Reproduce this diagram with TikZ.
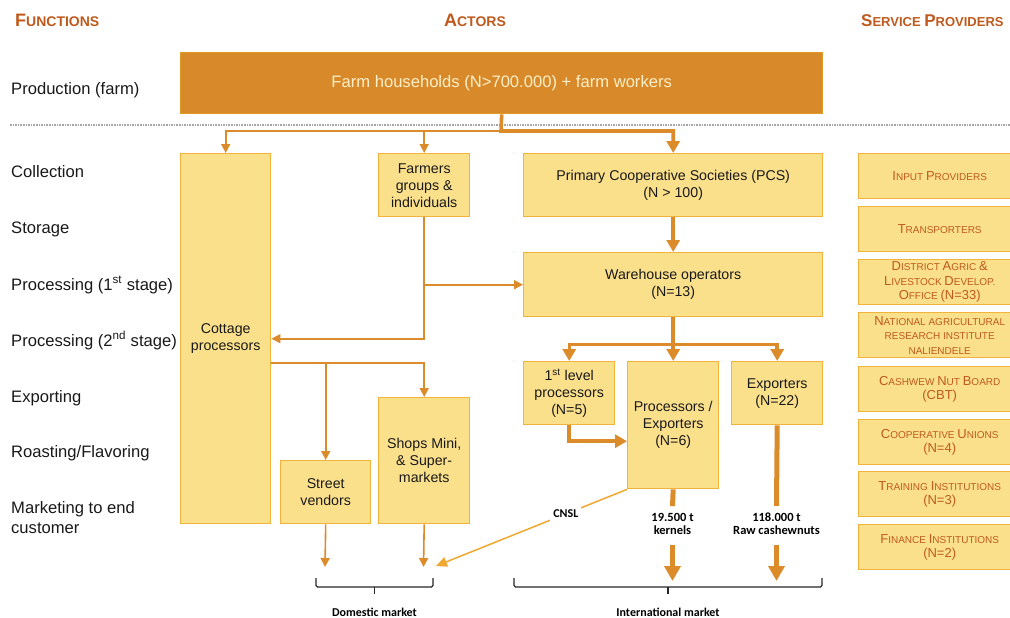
\documentclass[tikz,border=0pt]{standalone}
\usepackage{fontspec}
\setmainfont{Liberation Sans}
\newfontfamily\calibfont{Carlito}
\usetikzlibrary{arrows.meta}
\definecolor{boxc}{HTML}{FBE08C}
\definecolor{bordc}{HTML}{F0B43C}
\definecolor{farmc}{HTML}{D8892A}
\definecolor{arrc}{HTML}{DB8B2A}
\definecolor{cnslc}{HTML}{F0A830}
\definecolor{hdrc}{HTML}{BF5A1E}
\definecolor{cream}{HTML}{FDF0C8}
\newcommand\capw[2]{{\fontsize{13}{14.5}\selectfont #1}#2}
\newcommand\hdw[2]{{\fontsize{18}{20}\selectfont #1}#2}
\newcommand\hdws[2]{{\fontsize{17}{20}\selectfont #1}#2}
\begin{document}
\begin{tikzpicture}[x=1pt,y=-1pt,
  box/.style={draw=bordc, fill=boxc, line width=1.4pt, align=center, inner sep=0pt,
    anchor=north west, font=\fontsize{14.2}{17}\selectfont, text=black!90},
  spbox/.style={box, minimum width=162pt, minimum height=45pt,
    font=\fontsize{10}{14.5}\selectfont, text=hdrc},
  flab/.style={anchor=base west, inner sep=0pt, font=\fontsize{16.6}{20}\selectfont, align=left, text=black!90},
  hdr/.style={inner sep=0pt, font=\bfseries\fontsize{14}{16}\selectfont, text=hdrc},
  thk/.style={draw=arrc, line width=3.6pt, -{Triangle[length=12pt,width=13pt]}},
  thn/.style={draw=arrc, line width=1.6pt, -{Triangle[length=9pt,width=9pt]}},
  big/.style={draw=arrc, line width=5pt, -{Triangle[length=15pt,width=16pt]}},
  bigl/.style={draw=arrc, line width=5pt},
  cnsl/.style={draw=cnslc, line width=1.5pt, -{Triangle[length=11pt,width=10pt]}},
  qlab/.style={inner sep=0pt, align=center, font=\calibfont\bfseries\fontsize{12.5}{13}\selectfont},
  brc/.style={draw=black!85, line width=1.3pt, rounded corners=1.5pt}
]
\useasboundingbox (0,0) rectangle (1010,618);

% headers
\node[hdr, anchor=base west] (hf) at (15,27) {\hdw{F}{UNCTIONS}};
\node[hdr, anchor=base] (ha) at (475,27) {\hdw{A}{CTORS}};
\node[hdr, anchor=base west, font=\bfseries\fontsize{13}{16}\selectfont] (hs) at (861,27) {\hdws{S}{ERVICE} \hdws{P}{ROVIDERS}};

% function labels
\node[flab] (lprod) at (11,95) {Production (farm)};
\node[flab] (lcol) at (11,177) {Collection};
\node[flab] (lsto) at (11,233) {Storage};
\node[flab] (lp1) at (11,290) {Processing (1\textsuperscript{st} stage)};
\node[flab] (lp2) at (11,346) {Processing (2\textsuperscript{nd} stage)};
\node[flab] (lexp) at (11,402) {Exporting};
\node[flab] (lroa) at (11,457) {Roasting/Flavoring};
\node[flab] (lmkt) at (11,533) {Marketing to end\\customer};

% separator
\draw[gray!70, line width=1.6pt, densely dotted] (10,125) -- (1010,125);

% actor boxes
\node[box, fill=farmc, draw=farmc!85!yellow, minimum width=642pt, minimum height=61pt,
  text=cream, font=\fontsize{16.6}{19}\selectfont] (farm) at (180,52)
  {Farm households (N>700.000) + farm workers};
\node[box, minimum width=90pt, minimum height=370pt] (cot) at (180,153) {Cottage\\processors};
\node[box, minimum width=91pt, minimum height=63pt] (fg) at (378,153) {Farmers\\groups \&\\individuals};
\node[box, minimum width=299pt, minimum height=63pt] (pcs) at (523,153) {Primary Cooperative Societies (PCS)\\(N > 100)};
\node[box, minimum width=299pt, minimum height=64pt] (wh) at (523,252) {Warehouse operators\\(N=13)};
\node[box, minimum width=91pt, minimum height=63pt] (fl) at (523,361) {1\textsuperscript{st} level\\processors\\(N=5)};
\node[box, minimum width=91pt, minimum height=127pt] (pe) at (627,361) {Processors /\\Exporters\\(N=6)};
\node[box, minimum width=91pt, minimum height=63pt] (ex) at (731,361) {Exporters\\(N=22)};
\node[box, minimum width=90pt, minimum height=63pt] (sv) at (280,460) {Street\\vendors};
\node[box, minimum width=91pt, minimum height=126pt] (sh) at (378,397) {Shops Mini,\\\& Super-\\markets};

% service providers
\node[spbox] (s1) at (858,153) {\capw{I}{NPUT} \capw{P}{ROVIDERS}};
\node[spbox] (s2) at (858,206) {\capw{T}{RANSPORTERS}};
\node[spbox] (s3) at (858,259) {\capw{D}{ISTRICT} \capw{A}{GRIC} \capw{\&}{}\\\capw{L}{IVESTOCK} \capw{D}{EVELOP.}\\\capw{O}{FFICE} \capw{(N=33)}{}};
\node[spbox] (s4) at (858,312) {\capw{N}{ATIONAL AGRICULTURAL}\\RESEARCH INSTITUTE\\NALIENDELE};
\node[spbox] (s5) at (858,366) {\capw{C}{ASHWEW} \capw{N}{UT} \capw{B}{OARD}\\\capw{(CBT)}{}};
\node[spbox] (s6) at (858,419) {\capw{C}{OOPERATIVE} \capw{U}{NIONS}\\\capw{(N=4)}{}};
\node[spbox] (s7) at (858,471) {\capw{T}{RAINING} \capw{I}{NSTITUTIONS}\\\capw{(N=3)}{}};
\node[spbox] (s8) at (858,524) {\capw{F}{INANCE} \capw{I}{NSTITUTIONS}\\\capw{(N=2)}{}};

% connectors from farm
\coordinate (j1) at (501,131);
\draw[thn] (j1) -| (cot.north);
\draw[thn] (j1) -| (fg.north);
\draw[thk] (farm.south) -- (j1) -| (pcs.north);

% farmers groups
\draw[thn] (fg.south) |- (cot.east);
\draw[thn] (fg.south |- wh.west) -- (wh.west);

% PCS -> warehouse
\draw[thk] (pcs.south) -- (wh.north);

% warehouse -> processors / exporters
\draw[thk] (wh.south) -- (pe.north);
\draw[thk, line width=3pt] (wh.south) ++(0,27) -| (fl.north);
\draw[thk] (wh.south) ++(0,27) -| (ex.north);

% 1st level -> processors/exporters
\draw[thk] (fl.south) |- ([yshift=-16pt]pe.west);

% cottage -> street vendors / shops
\draw[thn] ([yshift=-24pt]cot.east) -| (sh.north);
\draw[thn] ([yshift=-24pt]cot.east) -| (sv.north);

% domestic market arrows
\coordinate (dm1) at (325,567);
\coordinate (dm2) at (423.5,567);
\coordinate (dm3) at (436,566);
\draw[thn] (sv.south) -- (dm1);
\draw[thn] (sh.south) -- (dm2);
\draw[cnsl] (pe.south west) -- node[pos=0.32, fill=white, qlab, inner sep=3pt, font=\calibfont\bfseries\fontsize{12}{13}\selectfont] (cn) {CNSL} (dm3);

% international market arrows
\node[qlab] (kern) at (672.5,524) {19.500 t\\kernels};
\node[qlab] (raw) at (776.5,524) {118.000 t\\Raw cashewnuts};
\coordinate (im1) at (672.5,581);
\coordinate (im2) at (776.5,581);
\draw[bigl] (pe.south) -- ([yshift=7pt]kern.north);
\draw[bigl] (ex.south) -- ([yshift=7pt]raw.north);
\draw[big] ([yshift=-10pt]kern.south) -- (im1);
\draw[big] ([yshift=-10pt]raw.south) -- (im2);

% brackets
\draw[brc] (316,578) -- (316,587) -- (433,587) -- (433,578);
\draw[brc] (374.5,587) -- (374.5,594);
\draw[brc] (514,578) -- (514,587) -- (822,587) -- (822,578);
\draw[brc] (668,587) -- (668,594);
\node[qlab, anchor=base, font=\calibfont\bfseries\fontsize{12}{13}\selectfont] (dmk) at (374.5,616) {Domestic market};
\node[qlab, anchor=base, font=\calibfont\bfseries\fontsize{12}{13}\selectfont] (imk) at (668,616) {International market};
\end{tikzpicture}
\end{document}
